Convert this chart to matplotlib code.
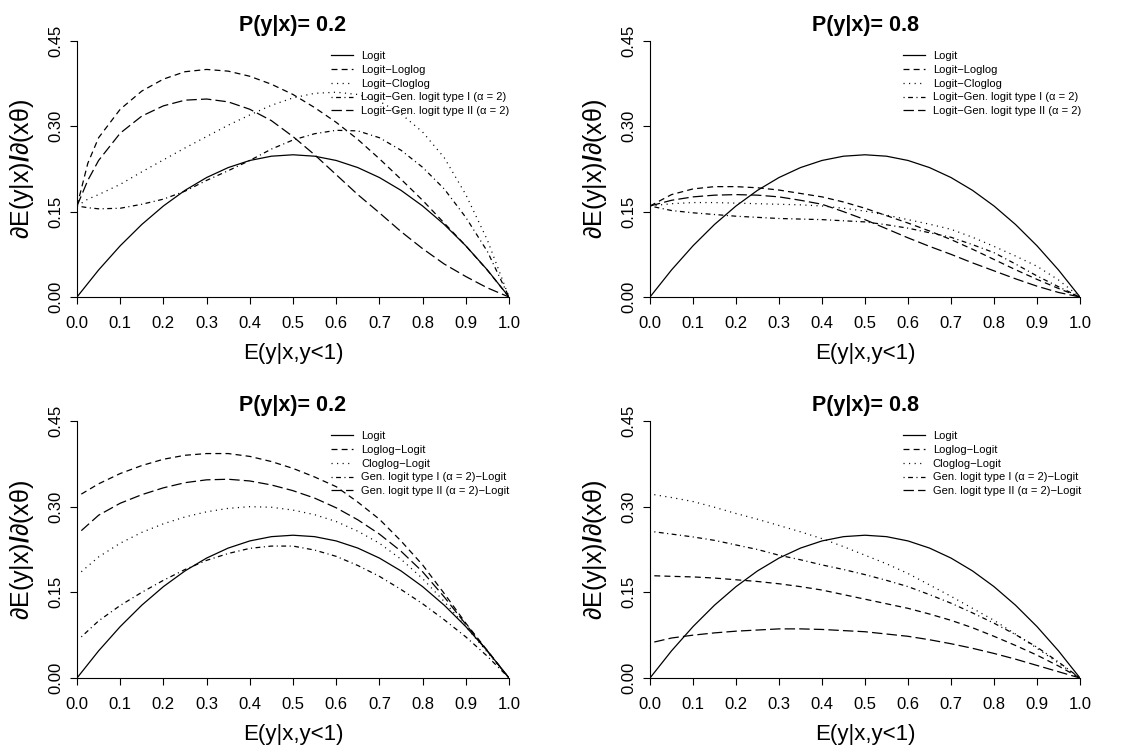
import numpy as np
import matplotlib.pyplot as plt

plt.rcParams['font.family'] = ['Liberation Sans', 'DejaVu Sans']
plt.rcParams['mathtext.fontset'] = 'custom'
plt.rcParams['mathtext.rm'] = 'Liberation Sans'
plt.rcParams['mathtext.bf'] = 'Liberation Sans:bold'
plt.rcParams['lines.scale_dashes'] = False

# abscissas
x_grid = [0.0, 0.05, 0.1, 0.15, 0.2, 0.25, 0.3, 0.35, 0.4, 0.45, 0.5,
          0.55, 0.6, 0.65, 0.7, 0.75, 0.8, 0.85, 0.9, 0.95, 1.0]
x_fine = [0.0, 0.025, 0.05, 0.1, 0.15, 0.2, 0.25, 0.3, 0.35, 0.4, 0.45, 0.5,
          0.55, 0.6, 0.65, 0.7, 0.75, 0.8, 0.85, 0.9, 0.95, 1.0]
x_low = [0.01, 0.05, 0.1, 0.15, 0.2, 0.25, 0.3, 0.35, 0.4, 0.45, 0.5,
         0.55, 0.6, 0.65, 0.7, 0.75, 0.8, 0.85, 0.9, 0.95, 1.0]

logit = [0.0, 0.0475, 0.09, 0.1275, 0.16, 0.1875, 0.21, 0.2275, 0.24, 0.2475, 0.25,
         0.2475, 0.24, 0.2275, 0.21, 0.1875, 0.16, 0.1275, 0.09, 0.0475, 0.0]

# P(y|x) = 0.2, logit first part
tl_loglog = [0.16, 0.235, 0.28, 0.33, 0.362, 0.383, 0.396, 0.40, 0.397, 0.388, 0.374,
             0.356, 0.333, 0.307, 0.277, 0.243, 0.207, 0.17, 0.13, 0.09, 0.047, 0.0]
tl_cloglog = [0.16, 0.172, 0.18, 0.198, 0.22, 0.241, 0.262, 0.282, 0.302, 0.32, 0.337,
              0.35, 0.358, 0.36, 0.356, 0.344, 0.322, 0.29, 0.245, 0.18, 0.1, 0.0]
tl_gen1 = [0.16, 0.157, 0.155, 0.156, 0.163, 0.172, 0.186, 0.205, 0.222, 0.24, 0.26,
           0.276, 0.287, 0.293, 0.292, 0.28, 0.258, 0.228, 0.19, 0.14, 0.08, 0.0]
tl_gen2 = [0.16, 0.205, 0.24, 0.288, 0.318, 0.336, 0.346, 0.348, 0.343, 0.33, 0.31,
           0.282, 0.25, 0.215, 0.18, 0.148, 0.115, 0.085, 0.058, 0.036, 0.016, 0.0]

# P(y|x) = 0.8, logit first part
tr_loglog = [0.16, 0.18, 0.19, 0.194, 0.194, 0.192, 0.188, 0.182, 0.176, 0.167, 0.156,
             0.143, 0.13, 0.116, 0.101, 0.084, 0.066, 0.048, 0.031, 0.015, 0.0]
tr_cloglog = [0.16, 0.164, 0.166, 0.166, 0.165, 0.164, 0.163, 0.162, 0.16, 0.156, 0.151,
              0.144, 0.136, 0.128, 0.119, 0.105, 0.089, 0.072, 0.054, 0.03, 0.0]
tr_gen1 = [0.16, 0.152, 0.148, 0.145, 0.142, 0.14, 0.138, 0.137, 0.136, 0.134, 0.132,
           0.127, 0.121, 0.113, 0.105, 0.092, 0.078, 0.058, 0.037, 0.018, 0.0]
tr_gen2 = [0.16, 0.17, 0.176, 0.179, 0.18, 0.179, 0.176, 0.17, 0.163, 0.15, 0.136,
           0.12, 0.104, 0.089, 0.075, 0.06, 0.046, 0.032, 0.019, 0.008, 0.0]

# P(y|x) = 0.2, logit second part
bl_loglog = [0.322, 0.34, 0.358, 0.372, 0.383, 0.39, 0.393, 0.393, 0.388, 0.379, 0.367,
             0.352, 0.335, 0.308, 0.278, 0.24, 0.198, 0.148, 0.096, 0.048, 0.0]
bl_cloglog = [0.186, 0.212, 0.236, 0.255, 0.27, 0.282, 0.291, 0.297, 0.3, 0.299, 0.294,
              0.286, 0.274, 0.257, 0.236, 0.208, 0.174, 0.134, 0.09, 0.045, 0.0]
bl_gen1 = [0.072, 0.1, 0.127, 0.15, 0.171, 0.19, 0.206, 0.218, 0.227, 0.231, 0.231,
           0.224, 0.213, 0.197, 0.178, 0.155, 0.13, 0.102, 0.072, 0.038, 0.0]
bl_gen2 = [0.258, 0.285, 0.306, 0.321, 0.333, 0.342, 0.347, 0.348, 0.345, 0.338, 0.328,
           0.315, 0.298, 0.277, 0.252, 0.222, 0.186, 0.142, 0.094, 0.047, 0.0]

# P(y|x) = 0.8, logit second part
br_loglog = [0.179, 0.178, 0.177, 0.175, 0.172, 0.169, 0.165, 0.16, 0.154, 0.146, 0.138,
             0.13, 0.122, 0.112, 0.101, 0.088, 0.073, 0.057, 0.04, 0.021, 0.0]
br_cloglog = [0.321, 0.316, 0.309, 0.299, 0.288, 0.278, 0.267, 0.256, 0.244, 0.23, 0.215,
              0.2, 0.183, 0.163, 0.143, 0.122, 0.101, 0.077, 0.052, 0.026, 0.0]
br_gen1 = [0.256, 0.252, 0.247, 0.241, 0.233, 0.225, 0.215, 0.207, 0.198, 0.19, 0.181,
           0.171, 0.16, 0.146, 0.131, 0.114, 0.096, 0.076, 0.054, 0.028, 0.0]
br_gen2 = [0.063, 0.07, 0.075, 0.079, 0.082, 0.084, 0.086, 0.086, 0.085, 0.083, 0.081,
           0.077, 0.073, 0.067, 0.06, 0.052, 0.043, 0.033, 0.022, 0.011, 0.0]

labels_top = ['Logit', 'Logit\u2212Loglog', 'Logit\u2212Cloglog',
              'Logit\u2212Gen. logit type I (\u03b1 = 2)',
              'Logit\u2212Gen. logit type II (\u03b1 = 2)']
labels_bottom = ['Logit', 'Loglog\u2212Logit', 'Cloglog\u2212Logit',
                 'Gen. logit type I (\u03b1 = 2)\u2212Logit',
                 'Gen. logit type II (\u03b1 = 2)\u2212Logit']

# R-like line types: solid, dashed, dotted, dotdash, longdash
styles = ['-', (0, (4.3, 3.0)), (0, (0.8, 3.2)), (0, (0.8, 2.5, 3.5, 2.5)), (0, (7.5, 3.0))]

panels = [
    ('P(y|x)= 0.2', labels_top, x_fine, [tl_loglog, tl_cloglog, tl_gen1, tl_gen2]),
    ('P(y|x)= 0.8', labels_top, x_grid, [tr_loglog, tr_cloglog, tr_gen1, tr_gen2]),
    ('P(y|x)= 0.2', labels_bottom, x_low, [bl_loglog, bl_cloglog, bl_gen1, bl_gen2]),
    ('P(y|x)= 0.8', labels_bottom, x_low, [br_loglog, br_cloglog, br_gen1, br_gen2]),
]

W, H = 1142, 747
boxes = [(77, 41, 509, 297), (650, 41, 1080, 297),
         (77, 421, 509, 678), (650, 421, 1080, 678)]

fig = plt.figure(figsize=(W / 100, H / 100), dpi=100)

for (title, labels, xs, curves), (x0, y0, x1, y1) in zip(panels, boxes):
    ax = fig.add_axes([x0 / W, 1 - y1 / H, (x1 - x0) / W, (y1 - y0) / H])
    ax.plot(x_grid, logit, color='black', lw=0.9, linestyle=styles[0], label=labels[0])
    for ys, ls, lab in zip(curves, styles[1:], labels[1:]):
        ax.plot(xs, ys, color='black', lw=0.9, linestyle=ls, label=lab)

    ax.set_xlim(0, 1)
    ax.set_ylim(0, 0.45)
    ax.set_xticks(np.arange(0, 1.01, 0.1))
    ax.set_xticklabels([f'{v:.1f}' for v in np.arange(0, 1.01, 0.1)])
    ax.set_yticks([0, 0.15, 0.30, 0.45])
    ax.set_yticklabels(['0.00', '0.15', '0.30', '0.45'], rotation=90, va='center')
    ax.tick_params(direction='out', length=5, width=0.8, labelsize=12)
    ax.tick_params(axis='x', pad=9)
    ax.tick_params(axis='y', pad=5)
    for s in ['top', 'right']:
        ax.spines[s].set_visible(False)
    for s in ['left', 'bottom']:
        ax.spines[s].set_linewidth(0.8)

    ax.set_title(title, fontsize=15.5, fontweight='bold', pad=7)
    ax.set_xlabel('E(y|x,y<1)', fontsize=16, labelpad=8)
    ax.set_ylabel('\u2202E(y|x)$\\mathbf{/}$\u2202(x\u03b8)', fontsize=18, labelpad=9)

    ax.legend(loc='upper left', bbox_to_anchor=(0.588, 0.962), frameon=False,
              fontsize=8, handlelength=2.0, handletextpad=0.7, labelspacing=0.35,
              borderpad=0, borderaxespad=0)

fig.savefig('out.png', dpi=100)
